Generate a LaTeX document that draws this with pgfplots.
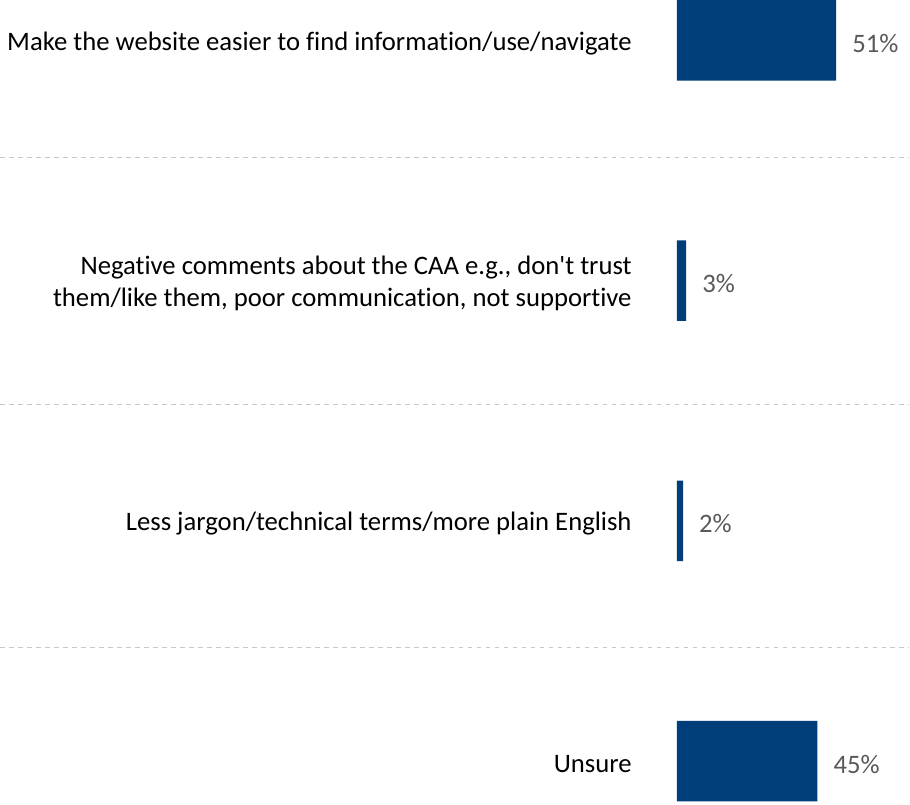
\documentclass[border=0pt]{standalone}
\usepackage{fontspec}
\setmainfont{Carlito}[Ligatures={NoCommon,NoRare,NoDiscretionary}]
\usepackage{pgfplots}
\pgfplotsset{compat=1.18}
\definecolor{barblue}{RGB}{0,62,122}
\definecolor{valgray}{RGB}{89,89,89}
\definecolor{dashgray}{RGB}{200,200,200}
\begin{document}
\begin{tikzpicture}
\begin{axis}[
 scale only axis, width=233pt, height=805.7pt,
 xbar, bar width=80.5pt,
 xmin=0, xmax=74.44,
 ymin=-0.168, ymax=3.182, y dir=reverse,
 axis line style={draw=none}, major tick length=0pt,
 xtick=\empty, ytick={0,1,2,3},
 /pgf/number format/assume math mode=true,
 yticklabels={Make the website easier to find information/use/navigate,
   {Negative comments about the CAA e.g., don\textquotesingle t trust\\them/like them, poor communication, not supportive},
   Less jargon/technical terms/more plain English,
   Unsure},
 yticklabel style={anchor=east, align=right, inner sep=0pt, xshift=-45pt, yshift=-3pt, font=\fontsize{26.7}{32}\selectfont},
 point meta=x,
 nodes near coords={\pgfmathprintnumber{\pgfplotspointmeta}\%},
 every node near coord/.append style={anchor=west, inner sep=0pt, xshift=16pt, yshift=-3pt, text=valgray, font=\fontsize{26.7}{32}\selectfont},
 clip=false,
]
\addplot[fill=barblue, draw=none] coordinates {(51,0) (3,1) (2,2) (45,3)};
\draw[dashgray, line width=1pt, dash pattern=on 4.5pt off 4.5pt] (axis cs:-216.3,0.4865) -- (axis cs:74.44,0.4865);
\draw[dashgray, line width=1pt, dash pattern=on 4.5pt off 4.5pt] (axis cs:-216.3,1.516) -- (axis cs:74.44,1.516);
\draw[dashgray, line width=1pt, dash pattern=on 4.5pt off 4.5pt] (axis cs:-216.3,2.526) -- (axis cs:74.44,2.526);
\end{axis}
\end{tikzpicture}
\end{document}
